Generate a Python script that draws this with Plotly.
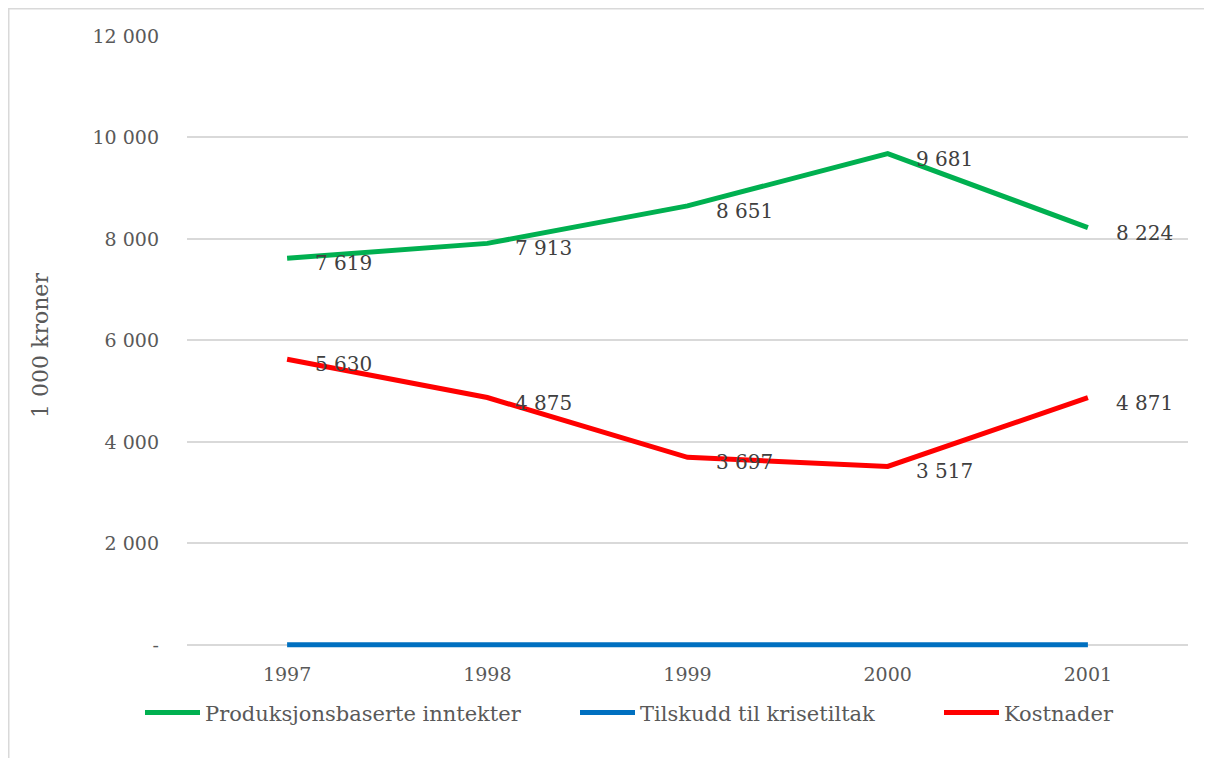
import plotly.graph_objects as go

years = ["1997", "1998", "1999", "2000", "2001"]
produksjon = [7619, 7913, 8651, 9681, 8224]
tilskudd = [0, 0, 0, 0, 0]
kostnader = [5630, 4875, 3697, 3517, 4871]
y_tickvals = [0, 2000, 4000, 6000, 8000, 10000, 12000]
y_ticktext = ["-", "2 000", "4 000", "6 000", "8 000", "10 000", "12 000"]

FONT = "Georgia, 'DejaVu Serif', serif"
# page body has an 8px margin, so the figure is laid out in shifted coordinates
W, H = 1204, 750
L, T = 179, 28
PLOT_RIGHT = 1180
ZERO_Y = 637          # pixel of value 0
TOP_Y = 28            # pixel of value 12000
YMIN = -200
scale = (ZERO_Y - TOP_Y) / 12000.0
PLOT_BOTTOM = ZERO_Y - YMIN * scale
R = W - PLOT_RIGHT
B = H - PLOT_BOTTOM
pw = PLOT_RIGHT - L
ph = PLOT_BOTTOM - T

def fmt(v):
    return f"{v:,}".replace(",", " ")

fig = go.Figure()
series = [
    ("Produksjonsbaserte inntekter", produksjon, "#00B050", True, "legend", 132),
    ("Tilskudd til krisetiltak", tilskudd, "#0070C0", False, "legend2", 567),
    ("Kostnader", kostnader, "#FF0000", True, "legend3", 931),
]
legend_y = (PLOT_BOTTOM - 705) / ph
legends = {}
for name, vals, col, lab, lg, lx in series:
    fig.add_trace(go.Scatter(x=years, y=vals, mode="lines", name=name, legend=lg,
                             line=dict(color=col, width=5)))
    legends[lg] = dict(orientation="h", x=(lx - L) / pw, xanchor="left",
                       y=legend_y, yanchor="middle", bgcolor="rgba(0,0,0,0)",
                       itemwidth=55,
                       font=dict(family=FONT, size=21, color="#595959"))
    if lab:
        for i, v in enumerate(vals):
            fig.add_annotation(x=i, y=v, text=fmt(v), showarrow=False,
                               xanchor="left", yanchor="middle", xshift=26, yshift=-5,
                               font=dict(family=FONT, size=20, color="#404040"))

fig.add_shape(type="rect", xref="paper", yref="paper",
              x0=(0.75 - L) / pw, x1=(W + 20 - L) / pw,
              y0=(PLOT_BOTTOM - (H + 20)) / ph, y1=(PLOT_BOTTOM - 0.75) / ph,
              line=dict(color="#D9D9D9", width=1.5), fillcolor="rgba(0,0,0,0)")

fig.update_layout(
    width=W, height=H,
    margin=dict(l=L, r=R, t=T, b=B),
    paper_bgcolor="white", plot_bgcolor="white",
    font=dict(family=FONT, color="#595959"),
    showlegend=True,
    legend=legends["legend"], legend2=legends["legend2"], legend3=legends["legend3"],
    xaxis=dict(type="category", range=[-0.5, 4.5], showgrid=False, zeroline=False,
               showline=False, ticks="", tickfont=dict(size=19, color="#595959"),
               ticklabelstandoff=6),
    yaxis=dict(range=[YMIN, 12000], tickvals=y_tickvals, ticktext=y_ticktext,
               showgrid=True, gridcolor="#D9D9D9", gridwidth=1.5, zeroline=False,
               showline=False, ticks="", tickfont=dict(size=19, color="#595959"),
               ticklabelstandoff=27,
               title=dict(text="1 000 kroner", font=dict(size=22, color="#595959"), standoff=37)),
)

fig.write_html("out.html")
